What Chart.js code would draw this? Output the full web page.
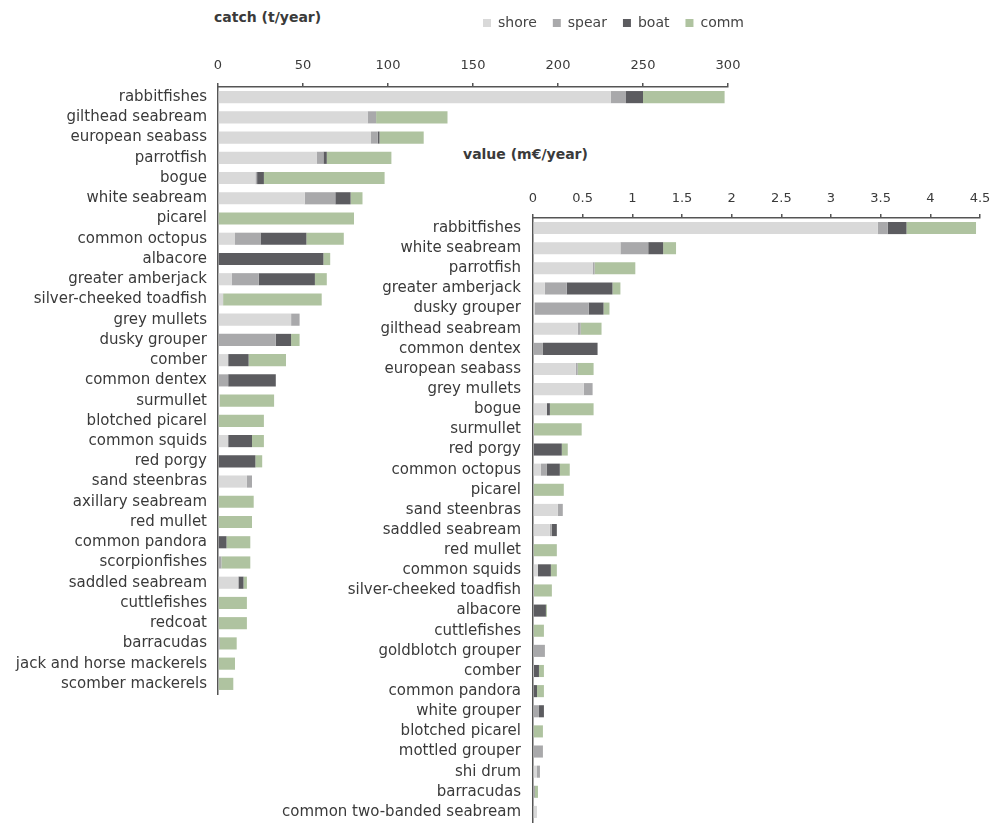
<!DOCTYPE html>
<html>
<head>
<meta charset="utf-8">
<script src="https://cdn.jsdelivr.net/npm/chart.js@4"></script>
<style>
  body { margin: 0; background: #fff; width: 996px; height: 824px; position: relative; overflow: hidden; font-family: "DejaVu Sans", sans-serif; }
  canvas { position: absolute; }
  #catchChart { left: 0; top: 0; }
  #valueChart { left: 270px; top: 140px; }
  .ttl { position: absolute; font-size: 14px; font-weight: bold; color: #3a3a3a; white-space: nowrap; }
</style>
</head>
<body>
<div class="ttl" style="left:214px;top:9px">catch (t/year)</div>
<div class="ttl" style="left:463px;top:146px">value (m€/year)</div>
<canvas id="catchChart" width="760" height="700"></canvas>
<canvas id="valueChart" width="726" height="684"></canvas>
<script>
const gearLabels = ['shore', 'spear', 'boat', 'comm'];
const gearColors = ['#d9d9d9', '#a9a9ab', '#5c5c60', '#afc3a0'];

// catch (t/year)
const catchSpecies = ['rabbitfishes', 'gilthead seabream', 'european seabass', 'parrotfish', 'bogue',
  'white seabream', 'picarel', 'common octopus', 'albacore', 'greater amberjack',
  'silver-cheeked toadfish', 'grey mullets', 'dusky grouper', 'comber', 'common dentex',
  'surmullet', 'blotched picarel', 'common squids', 'red porgy', 'sand steenbras',
  'axillary seabream', 'red mullet', 'common pandora', 'scorpionfishes', 'saddled seabream',
  'cuttlefishes', 'redcoat', 'barracudas', 'jack and horse mackerels', 'scomber mackerels'];
const catchShore = [231, 88, 90, 58, 22, 51, 0, 10, 0, 8, 3, 43, 0, 6, 0, 1, 0, 6, 0, 17, 0, 0, 0, 0, 12, 0, 0, 0, 0, 0];
const catchSpear = [9, 5, 4, 4, 1, 18, 0, 15, 0, 16, 0, 5, 34, 0, 6, 0, 0, 0, 0, 3, 0, 0, 0, 2, 0, 0, 0, 1, 0, 0];
const catchBoat  = [10, 0, 1, 2, 4, 9, 0, 27, 62, 33, 0, 0, 9, 12, 28, 0, 0, 14, 22, 0, 0, 0, 5, 0, 3, 0, 0, 0, 0, 0];
const catchComm  = [48, 42, 26, 38, 71, 7, 80, 22, 4, 7, 58, 0, 5, 22, 0, 32, 27, 7, 4, 0, 21, 20, 14, 17, 2, 17, 17, 10, 10, 9];
const catchTicks = [0, 50, 100, 150, 200, 250, 300];

// value (m€/year)
const valueSpecies = ['rabbitfishes', 'white seabream', 'parrotfish', 'greater amberjack', 'dusky grouper',
  'gilthead seabream', 'common dentex', 'european seabass', 'grey mullets', 'bogue',
  'surmullet', 'red porgy', 'common octopus', 'picarel', 'sand steenbras',
  'saddled seabream', 'red mullet', 'common squids', 'silver-cheeked toadfish', 'albacore',
  'cuttlefishes', 'goldblotch grouper', 'comber', 'common pandora', 'white grouper',
  'blotched picarel', 'mottled grouper', 'shi drum', 'barracudas', 'common two-banded seabream'];
const valueShore = [3.47, 0.88, 0.6, 0.12, 0.02, 0.45, 0, 0.43, 0.51, 0.14, 0.01, 0, 0.08, 0, 0.25, 0.17, 0, 0.05, 0.01, 0, 0, 0, 0.01, 0, 0, 0, 0, 0.04, 0, 0.04];
const valueSpear = [0.1, 0.28, 0.02, 0.22, 0.54, 0.03, 0.1, 0.02, 0.09, 0, 0, 0, 0.06, 0, 0.05, 0.02, 0, 0, 0, 0, 0, 0.12, 0, 0, 0.06, 0, 0.1, 0.03, 0.02, 0];
const valueBoat  = [0.19, 0.15, 0, 0.46, 0.15, 0, 0.55, 0, 0, 0.03, 0, 0.29, 0.13, 0, 0, 0.05, 0, 0.13, 0, 0.13, 0, 0, 0.05, 0.04, 0.05, 0, 0, 0, 0, 0];
const valueComm  = [0.7, 0.13, 0.41, 0.08, 0.06, 0.21, 0, 0.16, 0, 0.44, 0.48, 0.06, 0.1, 0.31, 0, 0, 0.24, 0.06, 0.18, 0.01, 0.11, 0, 0.05, 0.07, 0, 0.1, 0, 0, 0.03, 0];
const valueTicks = [0, 0.5, 1, 1.5, 2, 2.5, 3, 3.5, 4, 4.5];

const labelFont = { family: '"DejaVu Sans", sans-serif', size: 15 };
const tickFont = { family: '"DejaVu Sans", sans-serif', size: 13 };

function buildChart(id, species, series, ticks, box) {
  return new Chart(document.getElementById(id), {
    type: 'bar',
    data: {
      labels: species,
      datasets: gearLabels.map((g, i) => ({
        label: g,
        data: series[i],
        backgroundColor: gearColors[i],
        borderWidth: 0,
        barPercentage: 0.6,
        categoryPercentage: 1
      }))
    },
    options: {
      indexAxis: 'y',
      responsive: false,
      animation: false,
      layout: { padding: box.padding },
      plugins: {
        legend: box.legend ? {
          position: 'top',
          align: 'end',
          labels: { boxWidth: 8, boxHeight: 8, padding: 16, color: '#444', font: { family: labelFont.family, size: 14 } }
        } : { display: false },
        tooltip: { enabled: false }
      },
      scales: {
        x: {
          position: 'top',
          stacked: true,
          min: ticks[0],
          max: ticks[ticks.length - 1],
          afterBuildTicks: s => { s.ticks = ticks.map(v => ({ value: v })); },
          ticks: { color: '#3a3a3a', font: tickFont, padding: box.tickPad, maxRotation: 0, autoSkip: false, callback: v => String(v) },
          grid: { drawOnChartArea: false, drawTicks: true, tickLength: 4, color: '#555', lineWidth: 1.5 },
          border: { color: '#555', width: 1.5 },
          afterFit: s => {
            const lh = s.chart.legend ? s.chart.legend.height : 0;
            s.height = box.top - box.padding.top - lh;
            s.paddingLeft = 0;
            s.paddingRight = box.insetRight;
          }
        },
        y: {
          stacked: true,
          grid: { display: false, drawTicks: false },
          border: { color: '#555', width: 1.5 },
          ticks: { color: '#3a3a3a', font: labelFont, padding: box.labelPad, autoSkip: false },
          afterFit: s => {
            s.width = box.left - box.padding.left;
            s.paddingTop = 0;
            s.paddingBottom = 0;
          }
        }
      }
    }
  });
}

buildChart('catchChart', catchSpecies, [catchShore, catchSpear, catchBoat, catchComm], catchTicks, {
  padding: { top: 0, right: 0, bottom: 6, left: 0 },
  legend: true, top: 87, left: 218, insetRight: 32, tickPad: 10, labelPad: 11
});

buildChart('valueChart', valueSpecies, [valueShore, valueSpear, valueBoat, valueComm], valueTicks, {
  padding: { top: 0, right: 16, bottom: 2, left: 0 },
  legend: false, top: 78, left: 263, insetRight: 16, tickPad: 8, labelPad: 12
});
</script>
</body>
</html>
